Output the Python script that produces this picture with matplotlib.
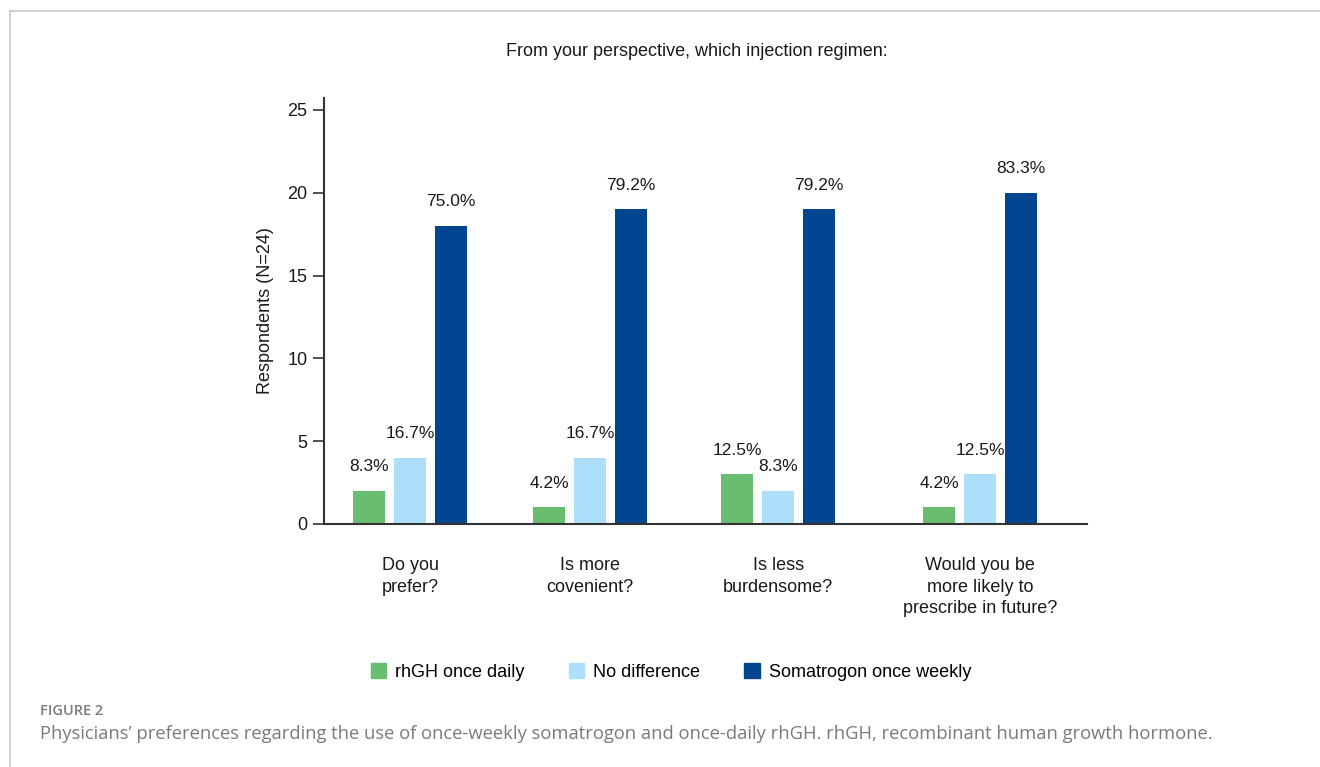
import matplotlib
matplotlib.use("Agg")
import matplotlib.pyplot as plt
import numpy as np
from matplotlib.patches import Rectangle
from matplotlib.lines import Line2D

categories = ["Do you\nprefer?", "Is more\ncovenient?", "Is less\nburdensome?",
              "Would you be\nmore likely to\nprescribe in future?"]
series_names = ["rhGH once daily", "No difference", "Somatrogon once weekly"]
rhgh = [2, 1, 3, 1]
nodiff = [4, 4, 2, 3]
somat = [18, 19, 19, 20]
rhgh_pct = ["8.3%", "4.2%", "12.5%", "4.2%"]
nodiff_pct = ["16.7%", "16.7%", "8.3%", "12.5%"]
somat_pct = ["75.0%", "79.2%", "79.2%", "83.3%"]
yticks = [0, 5, 10, 15, 20, 25]

group_pos = [0, 0.947, 1.937, 3.0]
colors = ["#69bd6e", "#aedffa", "#00458f"]

plt.rcParams['font.family'] = ['Liberation Sans', 'DejaVu Sans']
fig = plt.figure(figsize=(13.2, 7.67), dpi=100)
ax = fig.add_axes([324/1320, 1-524/767, (1087-324)/1320, (524-98)/767])

w = 0.168
off = 0.216
x = np.array(group_pos)
for i, (vals, pcts) in enumerate([(rhgh, rhgh_pct), (nodiff, nodiff_pct), (somat, somat_pct)]):
    xs = x + (i-1)*off
    ax.bar(xs, vals, width=w, color=colors[i], label=series_names[i])
    for xi, v, p in zip(xs, vals, pcts):
        ax.annotate(p, (xi, v), xytext=(0, 12), textcoords='offset points',
                    ha='center', va='bottom', fontsize=12.5, color='#1a1a1a')

ax.set_xlim(-0.453, 3.563)
ax.set_ylim(0, 25.72)
ax.set_yticks(yticks)
ax.set_xticks(x)
ax.set_xticklabels(categories, fontsize=13, color='#1a1a1a', linespacing=1.35, va='top')
ax.tick_params(axis='x', length=0, pad=24)
ax.tick_params(axis='y', length=8, width=1.2, colors='#333333', labelsize=13, labelcolor='#1a1a1a', pad=4)
for s in ['top', 'right']:
    ax.spines[s].set_visible(False)
for s in ['left', 'bottom']:
    ax.spines[s].set_color('#333333')
    ax.spines[s].set_linewidth(1.5)
ax.set_ylabel("Respondents (N=24)", fontsize=13, color='#1a1a1a', labelpad=9.5)

fig.text(697/1320, 1-52/767, "From your perspective, which injection regimen:",
         ha='center', va='center', fontsize=13, color='#1a1a1a')

handles = [Rectangle((0, 0), 1, 1, color=c) for c in colors]
fig.legend(handles, series_names, loc='center', bbox_to_anchor=(671/1320, 1-672/767),
           ncol=3, frameon=False, fontsize=13, handlelength=0.85, handleheight=0.85,
           columnspacing=2.45, handletextpad=0.5)

# panel border
fig.add_artist(Line2D([10/1320, 1], [1-11/767, 1-11/767], color='#c8c8c8', lw=1.2))
fig.add_artist(Line2D([10/1320, 10/1320], [0, 1-11/767], color='#c8c8c8', lw=1.2))

fig.text(40/1320, 1-711/767, "FIGURE 2", ha='left', va='center', fontsize=10.5,
         color='#7a7a7a', family=['Open Sans', 'DejaVu Sans'], fontweight='semibold')
fig.text(40/1320, 1-734/767,
         "Physicians\u2019 preferences regarding the use of once-weekly somatrogon and once-daily rhGH. rhGH, recombinant human growth hormone.",
         ha='left', va='center', fontsize=13.2, color='#7a7a7a', family=['Open Sans', 'DejaVu Sans'])

fig.savefig("out.png", dpi=100)
